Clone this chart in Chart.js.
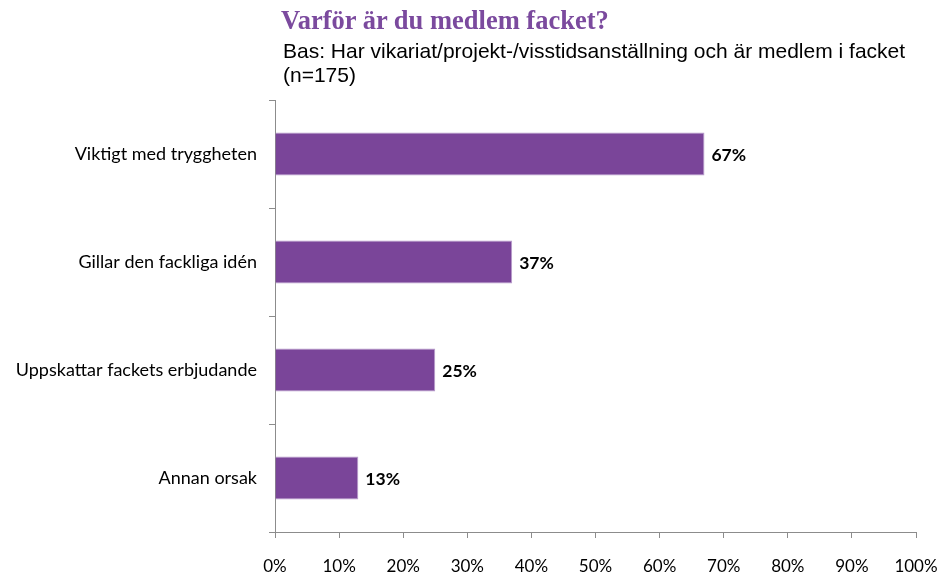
<!DOCTYPE html>
<html>
<head>
<meta charset="utf-8">
<script src="https://cdn.jsdelivr.net/npm/chart.js@4/dist/chart.umd.min.js"></script>
<style>
  html, body { margin: 0; padding: 0; background: #fff; }
  #wrap { position: relative; width: 941px; height: 574px; }
  #title { position: absolute; left: 281px; top: 5px; font: bold 26.5px "Liberation Serif", serif; color: #7b4a9e; white-space: nowrap; }
  #sub { position: absolute; left: 283px; top: 39px; font: 21px "Liberation Sans", Arial, sans-serif; color: #000; line-height: 24px; white-space: nowrap; }
</style>
</head>
<body>
<div id="wrap">
  <canvas id="bar-chart" width="941" height="574"></canvas>
  <div id="title">Varför är du medlem facket?</div>
  <div id="sub">Bas: Har vikariat/projekt-/visstidsanställning och är medlem i facket<br>(n=175)</div>
</div>
<script>
// Data
const categories = ['Viktigt med tryggheten', 'Gillar den fackliga idén', 'Uppskattar fackets erbjudande', 'Annan orsak'];
const values = [67, 37, 25, 13];
const xTicks = [0, 10, 20, 30, 40, 50, 60, 70, 80, 90, 100];

const labelFont = '"Lato", "Open Sans", sans-serif';

// draws the percentage next to each bar
const valueLabels = {
  id: 'valueLabels',
  afterDatasetsDraw(chart) {
    const ctx = chart.ctx;
    const meta = chart.getDatasetMeta(0);
    ctx.save();
    ctx.font = 'bold 17.5px ' + labelFont;
    ctx.fillStyle = '#000';
    ctx.textBaseline = 'middle';
    ctx.textAlign = 'left';
    meta.data.forEach((bar, i) => {
      ctx.fillText(values[i] + '%', bar.x + 7, bar.y + 1);
    });
    ctx.restore();
  }
};

const data_bar = {
  labels: categories,
  datasets: [{
    data: values,
    backgroundColor: '#7a4599',
    borderColor: '#b89ccb',
    borderWidth: 1,
    borderSkipped: 'start',
    categoryPercentage: 1,
    barPercentage: 0.4
  }]
};

const config_bar = {
  type: 'bar',
  data: data_bar,
  options: {
    indexAxis: 'y',
    responsive: false,
    animation: false,
    layout: { padding: { top: 100, right: 0, left: 0, bottom: 0 } },
    plugins: { legend: { display: false }, tooltip: { enabled: false } },
    scales: {
      x: {
        min: 0,
        max: 100,
        afterBuildTicks(scale) { scale.ticks = xTicks.map(v => ({ value: v })); },
        afterFit(scale) { scale.height = 42; scale.paddingRight = 25; },
        grid: { drawOnChartArea: false, tickLength: 6, color: '#8c8c8c' },
        border: { color: '#8c8c8c' },
        ticks: {
          padding: 18,
          maxRotation: 0,
          color: '#000',
          font: { size: 17, family: labelFont },
          callback: v => v + '%'
        }
      },
      y: {
        afterFit(scale) { scale.width = 275; },
        grid: { drawOnChartArea: false, tickLength: 6, color: '#8c8c8c', offset: true },
        border: { color: '#8c8c8c' },
        ticks: {
          padding: 12,
          color: '#000',
          font: { size: 18, family: labelFont }
        }
      }
    }
  },
  plugins: [valueLabels]
};

const canvas_bar = document.getElementById('bar-chart');
const barChart = new Chart(canvas_bar, config_bar);
</script>
</body>
</html>
